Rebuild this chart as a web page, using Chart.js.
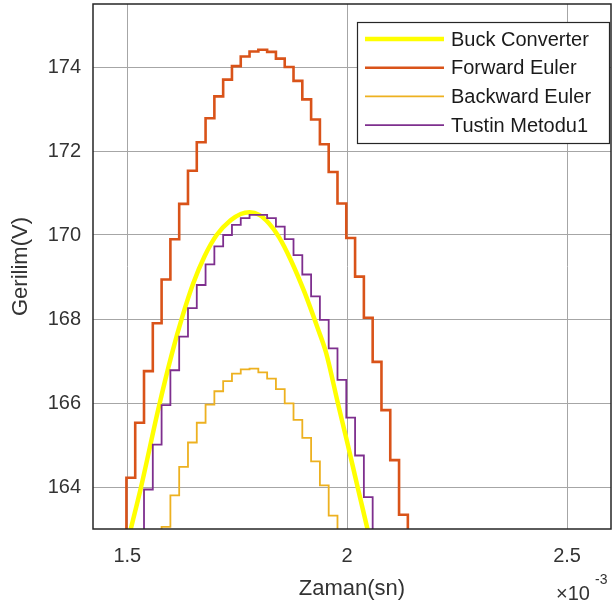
<!DOCTYPE html>
<html>
<head>
<meta charset="utf-8">
<script src="https://cdn.jsdelivr.net/npm/chart.js@4.4.1/dist/chart.umd.min.js"></script>
<style>
  html, body { margin: 0; padding: 0; background: #fff; overflow: hidden; }
  canvas { display: block; }
</style>
</head>
<body>
<canvas id="grafik" width="614" height="607"></canvas>
<script>
// zaman (ms, x10^-3 s) - ayrik ornekleme anlari
const zamanAdim = [1.478, 1.498, 1.518, 1.538, 1.558, 1.578, 1.598, 1.618, 1.638, 1.658,
  1.678, 1.698, 1.718, 1.738, 1.758, 1.778, 1.798, 1.818, 1.838, 1.858,
  1.878, 1.898, 1.918, 1.938, 1.958, 1.978, 1.998, 2.018, 2.038, 2.058,
  2.078, 2.098, 2.118, 2.138, 2.158];

const forwardEuler = [162.9, 164.22, 165.53, 166.76, 167.90, 168.94, 169.90, 170.74, 171.53, 172.21,
  172.78, 173.30, 173.70, 174.02, 174.25, 174.37, 174.41, 174.36, 174.20, 174.00,
  173.67, 173.23, 172.75, 172.16, 171.50, 170.75, 169.93, 169.01, 168.03, 166.98,
  165.83, 164.64, 163.34, 161.9, null];

const backwardEuler = [null, null, null, null, 162.3, 163.05, 163.80, 164.48, 165.06, 165.53,
  165.96, 166.28, 166.52, 166.70, 166.80, 166.82, 166.73, 166.58, 166.33, 165.99,
  165.60, 165.17, 164.61, 164.04, 163.32, 162.5, null, null, null, null,
  null, null, null, null, null];

const tustin = [null, null, 162.85, 163.94, 165.01, 165.95, 166.78, 167.58, 168.26, 168.81,
  169.30, 169.73, 170.00, 170.24, 170.40, 170.48, 170.48, 170.40, 170.20, 169.90,
  169.52, 169.06, 168.54, 167.98, 167.30, 166.55, 165.65, 164.75, 163.76, 162.7,
  null, null, null, null, null];

// surekli model (Buck Converter)
const buckZaman = [1.500, 1.5068, 1.5313, 1.5715, 1.6021, 1.625, 1.650, 1.676, 1.7032, 1.735,
  1.758, 1.778, 1.80, 1.822, 1.845, 1.872, 1.9025, 1.933, 1.952, 1.9788, 2.0016, 2.0244, 2.0473, 2.055];
const buckGerilim = [162.65, 162.95, 164.0, 165.9, 167.2, 168.05, 168.85, 169.5, 170.0, 170.35,
  170.5, 170.54, 170.48, 170.28, 169.95, 169.4, 168.65, 167.78, 167.2, 166.0, 165.0, 163.97, 162.95, 162.6];

const seriler = ['Buck Converter', 'Forward Euler', 'Backward Euler', 'Tustin Metodu1'];
const renkler = ['#FFFF00', '#D95319', '#EDB120', '#7E2F8E'];
const kalinlik = [4.5, 2.6, 1.8, 1.8];

const xTicks = [1.5, 2, 2.5];
const yTicks = [164, 166, 168, 170, 172, 174];

const yaziTipi = "'Liberation Sans', Arial, sans-serif";
const yaziRengi = '#333333';
const izgara = '#a6a6a6';

function noktalar(xs, ys) {
  return xs.map((x, i) => ({ x: x, y: ys[i] }));
}

const kutuLejant = {
  id: 'kutuLejant',
  afterDraw(chart) {
    const { ctx, chartArea: a } = chart;
    ctx.save();
    // eksen kutusu
    ctx.strokeStyle = '#262626';
    ctx.lineWidth = 1.5;
    ctx.strokeRect(a.left, a.top, a.right - a.left, a.bottom - a.top);

    // lejant
    const x0 = a.right - 254, y0 = a.top + 18, w = 252, h = 121;
    ctx.fillStyle = '#fff';
    ctx.fillRect(x0, y0, w, h);
    ctx.strokeStyle = '#262626';
    ctx.lineWidth = 1.2;
    ctx.strokeRect(x0 + 0.5, y0 + 0.5, w, h);
    ctx.font = '20px ' + yaziTipi;
    ctx.textBaseline = 'middle';
    ctx.textAlign = 'left';
    seriler.forEach((ad, i) => {
      const yy = y0 + 17 + i * 28.7;
      ctx.strokeStyle = renkler[i];
      ctx.lineWidth = kalinlik[i];
      ctx.beginPath();
      ctx.moveTo(x0 + 8, yy);
      ctx.lineTo(x0 + 87, yy);
      ctx.stroke();
      ctx.fillStyle = '#1a1a1a';
      ctx.fillText(ad, x0 + 94, yy + 1);
    });

    // x10^-3 carpani
    ctx.fillStyle = yaziRengi;
    ctx.textBaseline = 'alphabetic';
    ctx.font = '20px ' + yaziTipi;
    ctx.fillText('\u00d710', 556, 600);
    ctx.font = '14px ' + yaziTipi;
    ctx.fillText('-3', 595, 584);
    ctx.restore();
  }
};

const ctx = document.getElementById('grafik').getContext('2d');

const grafik = new Chart(ctx, {
  type: 'line',
  data: {
    datasets: [
      {
        label: seriler[0],
        data: noktalar(buckZaman, buckGerilim),
        borderColor: renkler[0],
        borderWidth: kalinlik[0],
        cubicInterpolationMode: 'monotone',
        order: 4,
        clip: 0
      },
      {
        label: seriler[1],
        data: noktalar(zamanAdim, forwardEuler),
        borderColor: renkler[1],
        borderWidth: kalinlik[1],
        stepped: 'before',
        order: 3,
        clip: 0
      },
      {
        label: seriler[2],
        data: noktalar(zamanAdim, backwardEuler),
        borderColor: renkler[2],
        borderWidth: kalinlik[2],
        stepped: 'before',
        order: 2,
        clip: 0
      },
      {
        label: seriler[3],
        data: noktalar(zamanAdim, tustin),
        borderColor: renkler[3],
        borderWidth: kalinlik[3],
        stepped: 'before',
        order: 1,
        clip: 0
      }
    ]
  },
  options: {
    responsive: false,
    animation: false,
    devicePixelRatio: 1,
    layout: { padding: { top: 4, right: 3, left: 0, bottom: 0 } },
    elements: { point: { radius: 0 }, line: { fill: false } },
    plugins: {
      legend: { display: false },
      tooltip: { enabled: false }
    },
    scales: {
      x: {
        type: 'linear',
        min: 1.422,
        max: 2.6,
        afterBuildTicks: s => { s.ticks = xTicks.map(v => ({ value: v })); },
        afterFit: s => { s.height = 78; s.paddingLeft = 0; s.paddingRight = 0; },
        grid: { color: izgara, drawTicks: false },
        border: { display: false },
        ticks: {
          padding: 15,
          color: yaziRengi,
          font: { family: yaziTipi, size: 20 },
          maxRotation: 0,
          callback: v => String(v)
        },
        title: {
          display: true,
          text: 'Zaman(sn)',
          color: yaziRengi,
          font: { family: yaziTipi, size: 22 },
          padding: { top: 0, bottom: 5 }
        }
      },
      y: {
        type: 'linear',
        min: 163,
        max: 175.5,
        afterBuildTicks: s => { s.ticks = yTicks.map(v => ({ value: v })); },
        afterFit: s => { s.width = 93; s.paddingTop = 0; s.paddingBottom = 0; },
        grid: { color: izgara, drawTicks: false },
        border: { display: false },
        ticks: {
          padding: 12,
          color: yaziRengi,
          font: { family: yaziTipi, size: 20 },
          callback: v => String(v)
        },
        title: {
          display: true,
          text: 'Gerilim(V)',
          color: yaziRengi,
          font: { family: yaziTipi, size: 22 },
          padding: { top: 8, bottom: 0 }
        }
      }
    }
  },
  plugins: [kutuLejant]
});
</script>
</body>
</html>
